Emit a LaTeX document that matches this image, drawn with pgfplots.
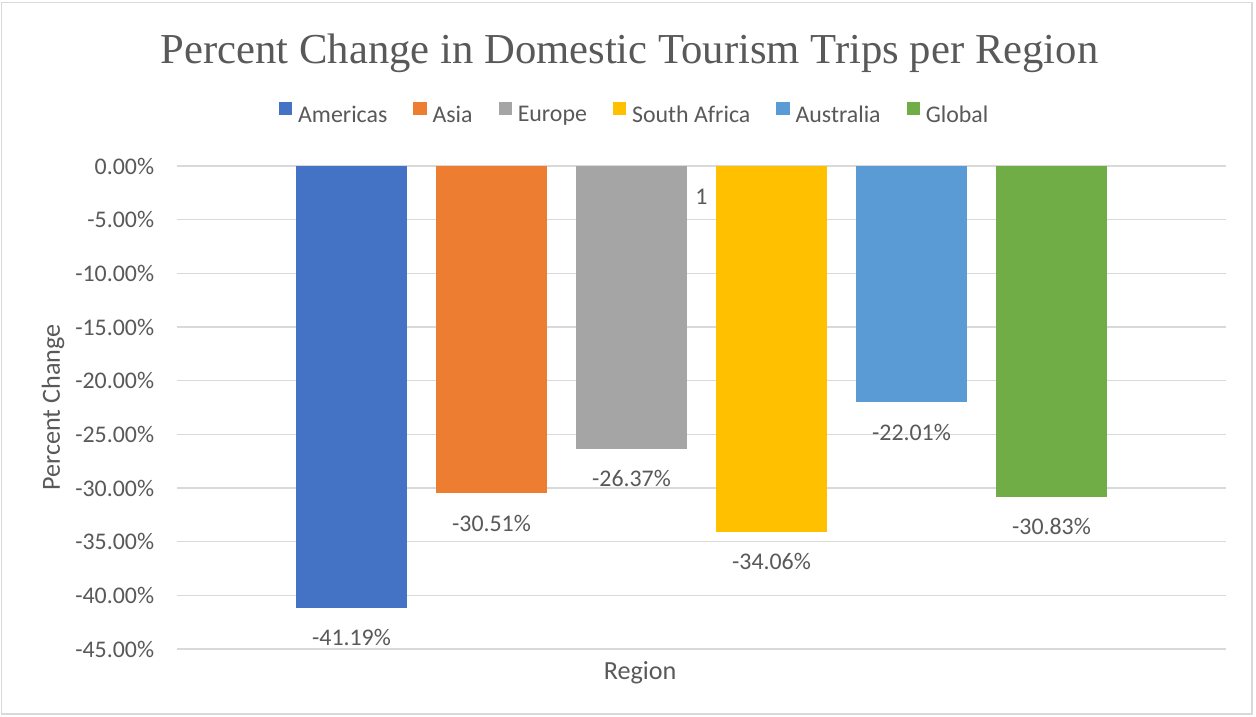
\documentclass[border=0pt]{standalone}
\usepackage{fontspec}
\setmainfont{Carlito}
\newfontfamily\titlefont{Liberation Serif}
\usepackage{pgfplots}
\pgfplotsset{compat=1.18}
\definecolor{txt}{HTML}{595959}
\definecolor{gridc}{HTML}{D9D9D9}
\definecolor{cA}{HTML}{4472C4}
\definecolor{cB}{HTML}{ED7D31}
\definecolor{cC}{HTML}{A5A5A5}
\definecolor{cD}{HTML}{FFC000}
\definecolor{cE}{HTML}{5B9BD5}
\definecolor{cF}{HTML}{70AD47}
\newcommand{\sm}{\fontsize{17.9}{21}\selectfont}
\newcommand{\md}{\fontsize{19.6}{23}\selectfont}
\begin{document}
\begin{tikzpicture}
\fill[white] (-132.75pt,-51pt) rectangle (809.25pt,486.75pt);
\draw[gridc, line width=1.1pt] (-131.5pt,-48.75pt) rectangle (806.25pt,484.7pt);
\begin{axis}[
 name=ax,
 scale only axis, width=786.75pt, height=362.25pt,
 xmin=0, xmax=2, ymin=-45, ymax=0,
 ybar=21.75pt, bar width=83.25pt,
 axis line style={draw=none},
 major tick length=0pt,
 ytick={-45,-40,...,0},
 ymajorgrids, grid style={gridc, line width=1.2pt},
 xtick={1}, xticklabels={1},
 xticklabel pos=upper,
 xticklabel style={anchor=center, yshift=-22.9pt, font=\sm, text=txt},
 /pgf/number format/assume math mode=true,
 yticklabel={\pgfmathprintnumber[fixed,fixed zerofill,precision=2]{\tick}\%},
 yticklabel style={anchor=east, inner sep=0pt, xshift=-17pt, font=\sm, text=txt},
 nodes near coords={\pgfmathprintnumber[fixed,fixed zerofill,precision=2]{\pgfplotspointmeta}\%},
 every node near coord/.append style={inner sep=0pt, yshift=-16pt, font=\sm, text=txt},
 title={Percent Change in Domestic Tourism Trips per Region},
 title style={at={(axis description cs:0.4314,1.2133)}, anchor=base, yshift=-6.5pt, inner sep=0pt, font=\titlefont\fontsize{32}{36}\selectfont, text=txt},
 ylabel={Percent Change},
 ylabel style={at={(axis description cs:-0.1182,0.5)}, anchor=center, font=\md, text=txt},
 xlabel={Region},
 xlabel style={at={(axis description cs:0.4414,0)}, anchor=center, yshift=-18pt, font=\md, text=txt},
 legend columns=6,
 legend image code/.code={\fill[#1] (0pt,0pt) rectangle (10.1pt,10.1pt);},
 legend style={draw=none, fill=none, inner sep=0pt, outer sep=0pt,
   at={(axis description cs:0.0972,1.1097)}, anchor=west, font=\sm, text=txt,
   nodes={inner sep=0pt},
   /tikz/every odd column/.append style={column sep=4.3pt},
   /tikz/every even column/.append style={column sep=19.5pt}},
]
\addplot[fill=cA, draw=none] coordinates {(1,-41.19)}; \addlegendentry{Americas}
\addplot[fill=cB, draw=none] coordinates {(1,-30.51)}; \addlegendentry{Asia}
\addplot[fill=cC, draw=none] coordinates {(1,-26.37)}; \addlegendentry{Europe}
\addplot[fill=cD, draw=none] coordinates {(1,-34.06)}; \addlegendentry{South Africa}
\addplot[fill=cE, draw=none] coordinates {(1,-22.01)}; \addlegendentry{Australia}
\addplot[fill=cF, draw=none] coordinates {(1,-30.83)}; \addlegendentry{Global}
\end{axis}
\end{tikzpicture}
\end{document}
